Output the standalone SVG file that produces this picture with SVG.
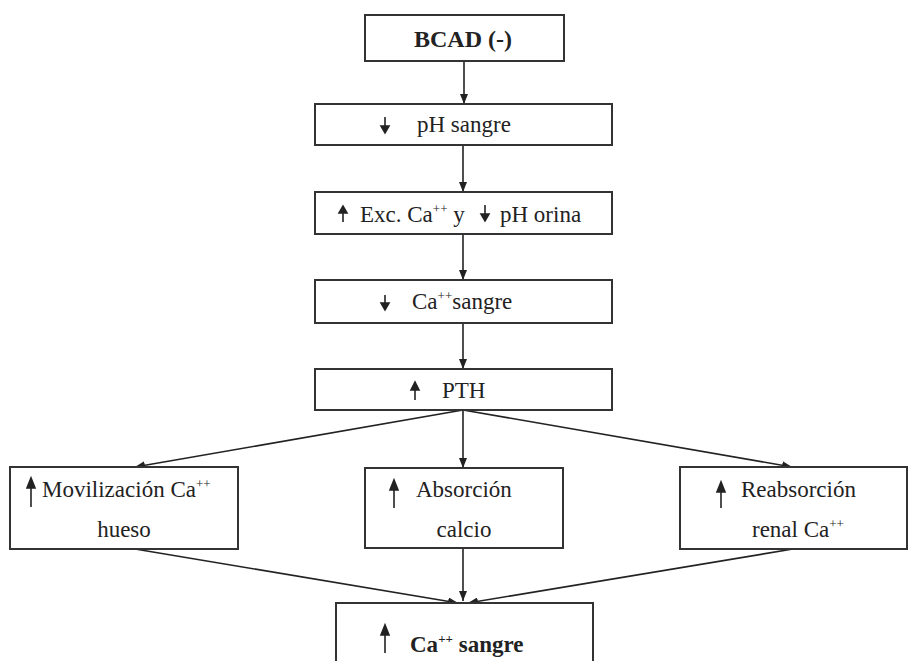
<svg xmlns="http://www.w3.org/2000/svg" width="909" height="661" viewBox="0 0 909 661">
<defs>
<marker id="ah" viewBox="0 0 10 8" refX="10" refY="4" markerWidth="10" markerHeight="8" markerUnits="userSpaceOnUse" orient="auto">
<path d="M0,0 L10,4 L0,8 z" fill="#222"/>
</marker>
<style>
.box{fill:#fff;stroke:#333;stroke-width:2}
.t{font-family:"Liberation Serif","Times New Roman",serif;font-size:23px;fill:#222}
.b{font-weight:bold;font-size:24px}
.sup{font-size:13px;fill:#222}
.con line{stroke:#222;stroke-width:1.6;marker-end:url(#ah)}
.ar{fill:#222;stroke:#222;stroke-width:1.6}
</style>
</defs>
<rect width="909" height="661" fill="#fff"/>
<g class="con" id="connectors">
<line x1="464" y1="61" x2="464" y2="104"/>
<line x1="463" y1="145" x2="463" y2="192"/>
<line x1="463" y1="234" x2="463" y2="280"/>
<line x1="463" y1="323" x2="463" y2="369"/>
<line x1="463" y1="410" x2="135" y2="467"/>
<line x1="463" y1="410" x2="463" y2="468"/>
<line x1="463" y1="410" x2="792" y2="467"/>
<line x1="135" y1="549" x2="458" y2="603"/>
<line x1="463" y1="548" x2="463" y2="601"/>
<line x1="793" y1="549" x2="468" y2="603"/>
</g>
<g id="n1">
<rect class="box" x="365" y="15" width="199" height="46"/>
<text class="t b" x="463" y="47" text-anchor="middle">BCAD (-)</text>
</g>
<g id="n2">
<rect class="box" x="315" y="104" width="297" height="41"/>
<path class="ar" d="M385,117 V126"/><path class="ar" d="M381,126 L389,126 L385,133 z"/>
<text class="t" x="417" y="132">pH sangre</text>
</g>
<g id="n3">
<rect class="box" x="315" y="192" width="297" height="42"/>
<path class="ar" d="M343,213 V222"/><path class="ar" d="M339,213 L347,213 L343,206 z"/>
<text class="t" x="360" y="222">Exc.  Ca<tspan class="sup" dy="-9">++</tspan><tspan dy="9"> y</tspan></text>
<path class="ar" d="M485,205 V214"/><path class="ar" d="M481,214 L489,214 L485,221 z"/>
<text class="t" x="500" y="222">pH orina</text>
</g>
<g id="n4">
<rect class="box" x="315" y="280" width="297" height="43"/>
<path class="ar" d="M385,295 V303"/><path class="ar" d="M381,303 L389,303 L385,310 z"/>
<text class="t" x="412" y="309">Ca<tspan class="sup" dy="-9">++</tspan><tspan dy="9">sangre</tspan></text>
</g>
<g id="n5">
<rect class="box" x="315" y="369" width="297" height="41"/>
<path class="ar" d="M415,390 V400"/><path class="ar" d="M411,390 L419,390 L415,382 z"/>
<text class="t" x="442" y="398">PTH</text>
</g>
<g id="n6">
<rect class="box" x="10" y="467" width="228" height="82"/>
<path class="ar" d="M31,487 V507"/><path class="ar" d="M27,488 L35,488 L31,478 z"/>
<text class="t" x="42" y="497">Movilización Ca<tspan class="sup" dy="-9">++</tspan></text>
<text class="t" x="124" y="537" text-anchor="middle">hueso</text>
</g>
<g id="n7">
<rect class="box" x="365" y="468" width="198" height="80"/>
<path class="ar" d="M394,489 V508"/><path class="ar" d="M390,490 L398,490 L394,480 z"/>
<text class="t" x="416" y="497">Absorción</text>
<text class="t" x="464" y="537" text-anchor="middle">calcio</text>
</g>
<g id="n8">
<rect class="box" x="680" y="467" width="227" height="82"/>
<path class="ar" d="M721,491 V508"/><path class="ar" d="M717,492 L725,492 L721,482 z"/>
<text class="t" x="741" y="497">Reabsorción</text>
<text class="t" x="752" y="537">renal Ca<tspan class="sup" dy="-9">++</tspan></text>
</g>
<g id="n9">
<rect class="box" x="336" y="603" width="257" height="70"/>
<path class="ar" d="M385,634 V653"/><path class="ar" d="M381,635 L389,635 L385,625 z"/>
<text class="t b" x="410" y="652" style="font-size:23px">Ca<tspan class="sup" dy="-9">++</tspan><tspan dy="9"> sangre</tspan></text>
</g>
</svg>
